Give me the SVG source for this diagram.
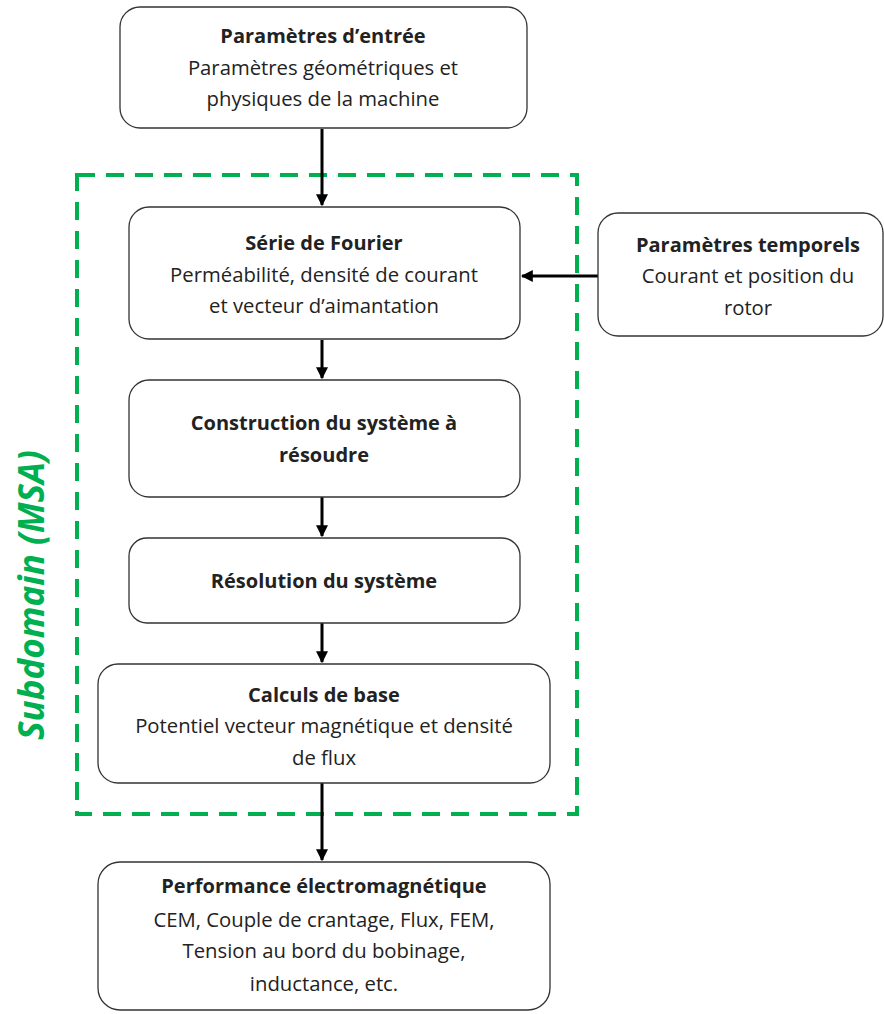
<svg xmlns="http://www.w3.org/2000/svg" width="884" height="1014" viewBox="0 0 884 1014">
<style>
.box{fill:#fff;stroke:#333;stroke-width:1.3}
.t{font-family:"Open Sans","Liberation Sans",sans-serif;font-size:20.3px;fill:#222;text-anchor:middle}
.b{font-weight:bold;font-size:20px}
.c{stroke:#000;stroke-width:3;fill:none}
</style>
<defs>
<marker id="ah" viewBox="0 0 10 10" refX="9" refY="5" markerWidth="4" markerHeight="4" orient="auto" markerUnits="strokeWidth">
<path d="M0,0 L10,5 L0,10 z" fill="#000"/>
</marker>
</defs>
<rect width="884" height="1014" fill="#fff"/>
<g id="subdomain">
<rect x="77" y="175" width="500" height="639" fill="none" stroke="#00b050" stroke-width="4" stroke-dasharray="18,11"/>
<text transform="translate(44,595) rotate(-90)" text-anchor="middle" font-family="'Open Sans','Liberation Sans',sans-serif" font-size="35" font-weight="bold" font-style="italic" fill="#00b050">Subdomain (MSA)</text>
</g>
<g id="connectors">
<line class="c" x1="322" y1="129" x2="322" y2="205" marker-end="url(#ah)"/>
<line class="c" x1="598" y1="276" x2="522" y2="276" marker-end="url(#ah)"/>
<line class="c" x1="322" y1="340" x2="322" y2="378" marker-end="url(#ah)"/>
<line class="c" x1="322" y1="497" x2="322" y2="536" marker-end="url(#ah)"/>
<line class="c" x1="322" y1="623" x2="322" y2="662" marker-end="url(#ah)"/>
<line class="c" x1="322" y1="783" x2="322" y2="860" marker-end="url(#ah)"/>
</g>
<g id="entree">
<rect class="box" x="120" y="7" width="407" height="121" rx="20"/>
<text class="t b" x="323" y="43">Paramètres d’entrée</text>
<text class="t" x="323" y="75">Paramètres géométriques et</text>
<text class="t" x="323" y="106">physiques de la machine</text>
</g>
<g id="fourier">
<rect class="box" x="129" y="207" width="391" height="132" rx="20"/>
<text class="t b" x="324" y="250">Série de Fourier</text>
<text class="t" x="324" y="282">Perméabilité, densité de courant</text>
<text class="t" x="324" y="313">et vecteur d’aimantation</text>
</g>
<g id="temporels">
<rect class="box" x="598" y="213" width="285" height="123" rx="20"/>
<text class="t b" x="748" y="252">Paramètres temporels</text>
<text class="t" x="748" y="283">Courant et position du</text>
<text class="t" x="748" y="315">rotor</text>
</g>
<g id="construction">
<rect class="box" x="129" y="380" width="391" height="117" rx="20"/>
<text class="t b" x="324" y="430">Construction du système à</text>
<text class="t b" x="324" y="462">résoudre</text>
</g>
<g id="resolution">
<rect class="box" x="129" y="538" width="391" height="85" rx="18"/>
<text class="t b" x="324" y="588">Résolution du système</text>
</g>
<g id="calculs">
<rect class="box" x="98" y="664" width="452" height="119" rx="20"/>
<text class="t b" x="324" y="702">Calculs de base</text>
<text class="t" x="324" y="733">Potentiel vecteur magnétique et densité</text>
<text class="t" x="324" y="765">de flux</text>
</g>
<g id="performance">
<rect class="box" x="98" y="862" width="452" height="148" rx="22"/>
<text class="t b" x="324" y="893">Performance électromagnétique</text>
<text class="t" x="324" y="927">CEM, Couple de crantage, Flux, FEM,</text>
<text class="t" x="324" y="958">Tension au bord du bobinage,</text>
<text class="t" x="324" y="991">inductance, etc.</text>
</g>
</svg>
